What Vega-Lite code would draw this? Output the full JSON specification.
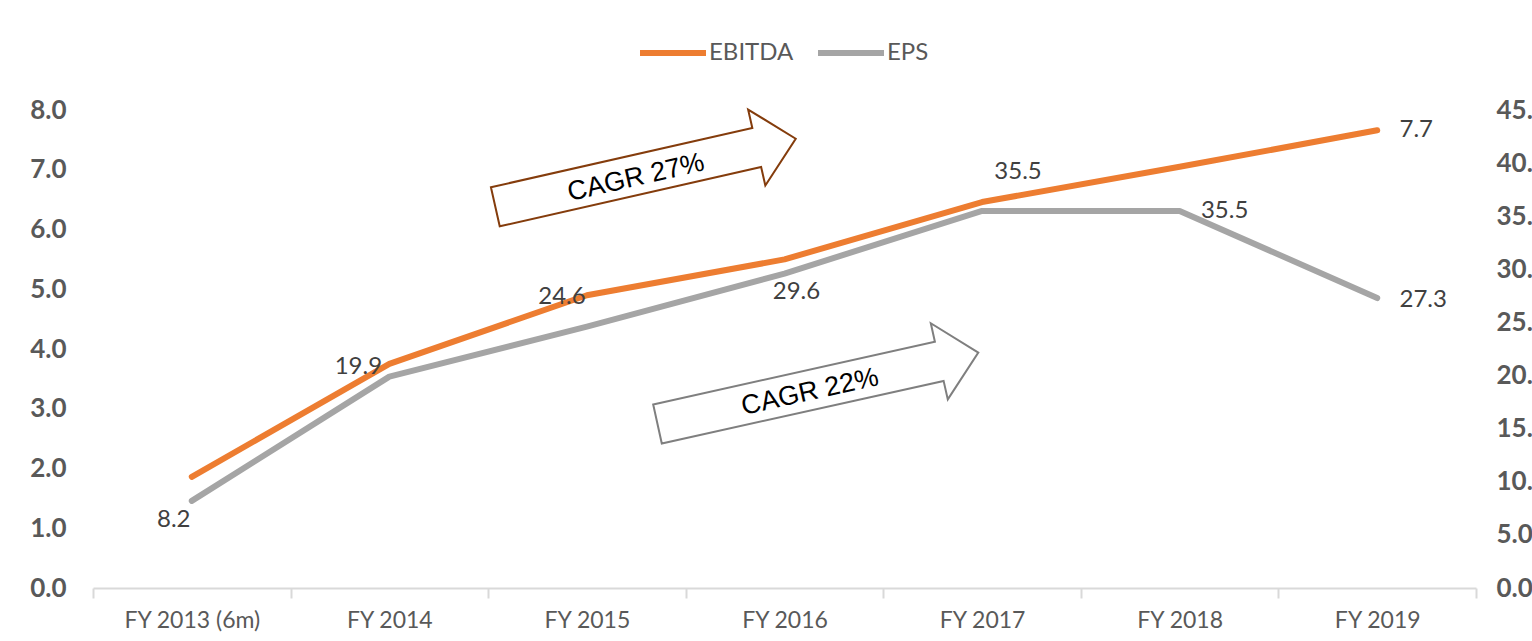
{
  "$schema": "https://vega.github.io/schema/vega-lite/v6.json",
  "width": 1383,
  "height": 478,
  "autosize": {"type": "none"},
  "padding": {"left": 93, "top": 110, "right": 56, "bottom": 53},
  "background": "white",
  "config": {"view": {"stroke": null}},
  "datasets": {
    "main": [
      {"year": "FY 2013 (6m)", "series": "EBITDA", "value": 1.86},
      {"year": "FY 2014", "series": "EBITDA", "value": 3.75},
      {"year": "FY 2015", "series": "EBITDA", "value": 4.9},
      {"year": "FY 2016", "series": "EBITDA", "value": 5.5},
      {"year": "FY 2017", "series": "EBITDA", "value": 6.46},
      {"year": "FY 2018", "series": "EBITDA", "value": 7.05},
      {"year": "FY 2019", "series": "EBITDA", "value": 7.66},
      {"year": "FY 2013 (6m)", "series": "EPS", "value": 8.2},
      {"year": "FY 2014", "series": "EPS", "value": 19.9},
      {"year": "FY 2015", "series": "EPS", "value": 24.6},
      {"year": "FY 2016", "series": "EPS", "value": 29.6},
      {"year": "FY 2017", "series": "EPS", "value": 35.5},
      {"year": "FY 2018", "series": "EPS", "value": 35.5},
      {"year": "FY 2019", "series": "EPS", "value": 27.3}
    ],
    "notes": [
      {"note": "CAGR 27%", "series": "EBITDA", "year": "FY 2015", "pos": 6.95},
      {"note": "CAGR 22%", "series": "EPS", "year": "FY 2016", "pos": 18.8}
    ]
  },
  "data": {"name": "main"},
  "encoding": {
    "x": {
      "field": "year",
      "type": "ordinal",
      "sort": null,
      "scale": {
        "type": "band",
        "paddingInner": 0,
        "paddingOuter": 0,
        "domain": ["FY 2013 (6m)", "FY 2014", "FY 2015", "FY 2016", "FY 2017", "FY 2018", "FY 2019"]
      },
      "axis": {
        "title": null,
        "labelAngle": 0,
        "tickBand": "extent",
        "domainColor": "#d9d9d9",
        "domainWidth": 2,
        "tickColor": "#d9d9d9",
        "tickWidth": 2,
        "tickSize": 10,
        "labelPadding": 11,
        "labelFont": "Lato",
        "labelFontSize": 23,
        "labelColor": "#595959",
        "grid": false
      }
    }
  },
  "layer": [
    {
      "transform": [{"filter": "datum.series === 'EPS'"}],
      "mark": {"type": "line", "strokeWidth": 6, "strokeCap": "round", "strokeJoin": "round"},
      "encoding": {
        "y": {
          "field": "value",
          "type": "quantitative",
          "scale": {"domain": [0, 45], "nice": false, "zero": true},
          "axis": {
            "orient": "right",
            "title": null,
            "values": [0, 5, 10, 15, 20, 25, 30, 35, 40, 45],
            "format": ".1f",
            "domain": false,
            "ticks": false,
            "grid": false,
            "labelPadding": 20,
            "labelFont": "Lato",
            "labelFontWeight": "bold",
            "labelFontSize": 26,
            "labelColor": "#595959"
          }
        },
        "color": {
          "field": "series",
          "type": "nominal",
          "scale": {"domain": ["EBITDA", "EPS"], "range": ["#ED7D31", "#A5A5A5"]},
          "legend": {
            "title": null,
            "orient": "none",
            "direction": "horizontal",
            "legendX": 544,
            "legendY": -93,
            "symbolType": "stroke",
            "symbolSize": 4356,
            "symbolStrokeWidth": 6,
            "labelFont": "Lato",
            "labelFontSize": 24,
            "labelColor": "#595959",
            "labelOffset": 0,
            "columnPadding": 12
          }
        }
      }
    },
    {
      "layer": [
        {
          "transform": [{"filter": "datum.series === 'EBITDA'"}],
          "mark": {"type": "line", "strokeWidth": 6, "strokeCap": "round", "strokeJoin": "round"},
          "encoding": {
            "y": {
              "field": "value",
              "type": "quantitative",
              "scale": {"domain": [0, 8], "nice": false, "zero": true},
              "axis": {
                "orient": "left",
                "title": null,
                "values": [0, 1, 2, 3, 4, 5, 6, 7, 8],
                "format": ".1f",
                "domain": false,
                "ticks": false,
                "grid": false,
                "labelPadding": 27,
                "labelFont": "Lato",
                "labelFontWeight": "bold",
                "labelFontSize": 26,
                "labelColor": "#595959"
              }
            },
            "color": {"field": "series", "type": "nominal"}
          }
        },
        {
          "transform": [{"filter": "datum.series === 'EBITDA' && datum.year === 'FY 2019'"}],
          "mark": {"type": "text", "font": "Lato", "fontSize": 24, "color": "#404040", "align": "center", "baseline": "middle", "dx": 39, "dy": 0},
          "encoding": {
            "y": {"field": "value", "type": "quantitative"},
            "text": {"field": "value", "type": "quantitative", "format": ".1f"}
          }
        },
        {
          "data": {"name": "notes"},
          "transform": [{"filter": "datum.series === 'EBITDA'"}],
          "mark": {
            "type": "point",
            "shape": "M-96,14.5L165.4,-44.7L161.2,-63.2L208.8,-34L178.4,12.8L174.2,-5.7L-87.2,53.6Z",
            "size": 4,
            "filled": true,
            "fill": "white",
            "stroke": "#843C0C",
            "strokeWidth": 2,
            "opacity": 1,
            "strokeJoin": "miter"
          },
          "encoding": {
            "y": {"field": "pos", "type": "quantitative"}
          }
        },
        {
          "data": {"name": "notes"},
          "transform": [{"filter": "datum.series === 'EBITDA'"}],
          "mark": {"type": "text", "font": "Liberation Sans", "fontSize": 27, "color": "black", "align": "center", "baseline": "middle", "angle": 347.2, "dx": 46.7, "dy": 15.7},
          "encoding": {
            "y": {"field": "pos", "type": "quantitative"},
            "text": {"field": "note"}
          }
        }
      ]
    },
    {
      "transform": [{"filter": "datum.series === 'EPS'"}],
      "encoding": {
        "y": {
          "field": "value",
          "type": "quantitative",
          "scale": {"domain": [0, 45], "nice": false, "zero": true},
          "axis": null
        },
        "text": {"field": "value", "type": "quantitative", "format": ".1f"}
      },
      "layer": [
        {
          "transform": [{"filter": "datum.year === 'FY 2013 (6m)'"}],
          "mark": {"type": "text", "font": "Lato", "fontSize": 24, "color": "#404040", "align": "center", "baseline": "middle", "dx": -18, "dy": 19}
        },
        {
          "transform": [{"filter": "datum.year === 'FY 2014'"}],
          "mark": {"type": "text", "font": "Lato", "fontSize": 24, "color": "#404040", "align": "center", "baseline": "middle", "dx": -31, "dy": -10}
        },
        {
          "transform": [{"filter": "datum.year === 'FY 2015'"}],
          "mark": {"type": "text", "font": "Lato", "fontSize": 24, "color": "#404040", "align": "center", "baseline": "middle", "dx": -25, "dy": -30}
        },
        {
          "transform": [{"filter": "datum.year === 'FY 2016'"}],
          "mark": {"type": "text", "font": "Lato", "fontSize": 24, "color": "#404040", "align": "center", "baseline": "middle", "dx": 12, "dy": 18}
        },
        {
          "transform": [{"filter": "datum.year === 'FY 2017'"}],
          "mark": {"type": "text", "font": "Lato", "fontSize": 24, "color": "#404040", "align": "center", "baseline": "middle", "dx": 36, "dy": -39}
        },
        {
          "transform": [{"filter": "datum.year === 'FY 2018'"}],
          "mark": {"type": "text", "font": "Lato", "fontSize": 24, "color": "#404040", "align": "center", "baseline": "middle", "dx": 45, "dy": 0}
        },
        {
          "transform": [{"filter": "datum.year === 'FY 2019'"}],
          "mark": {"type": "text", "font": "Lato", "fontSize": 24, "color": "#404040", "align": "center", "baseline": "middle", "dx": 46, "dy": 2}
        }
      ]
    },
    {
      "data": {"name": "notes"},
      "transform": [{"filter": "datum.series === 'EPS'"}],
      "encoding": {
        "y": {
          "field": "pos",
          "type": "quantitative",
          "scale": {"domain": [0, 45], "nice": false, "zero": true},
          "axis": null
        }
      },
      "layer": [
        {
          "mark": {
            "type": "point",
            "shape": "M-131.3,16.1L150.4,-46.5L146.3,-65.05L193.8,-35.65L163.3,11.1L159.1,-7.4L-122.7,55.2Z",
            "size": 4,
            "filled": true,
            "fill": "white",
            "stroke": "#7F7F7F",
            "strokeWidth": 2,
            "opacity": 1,
            "strokeJoin": "miter"
          }
        },
        {
          "mark": {"type": "text", "font": "Liberation Sans", "fontSize": 27, "color": "black", "align": "center", "baseline": "middle", "angle": 347.5, "dx": 24.1, "dy": 9.1},
          "encoding": {"text": {"field": "note"}}
        }
      ]
    }
  ],
  "resolve": {"scale": {"y": "independent"}}
}
